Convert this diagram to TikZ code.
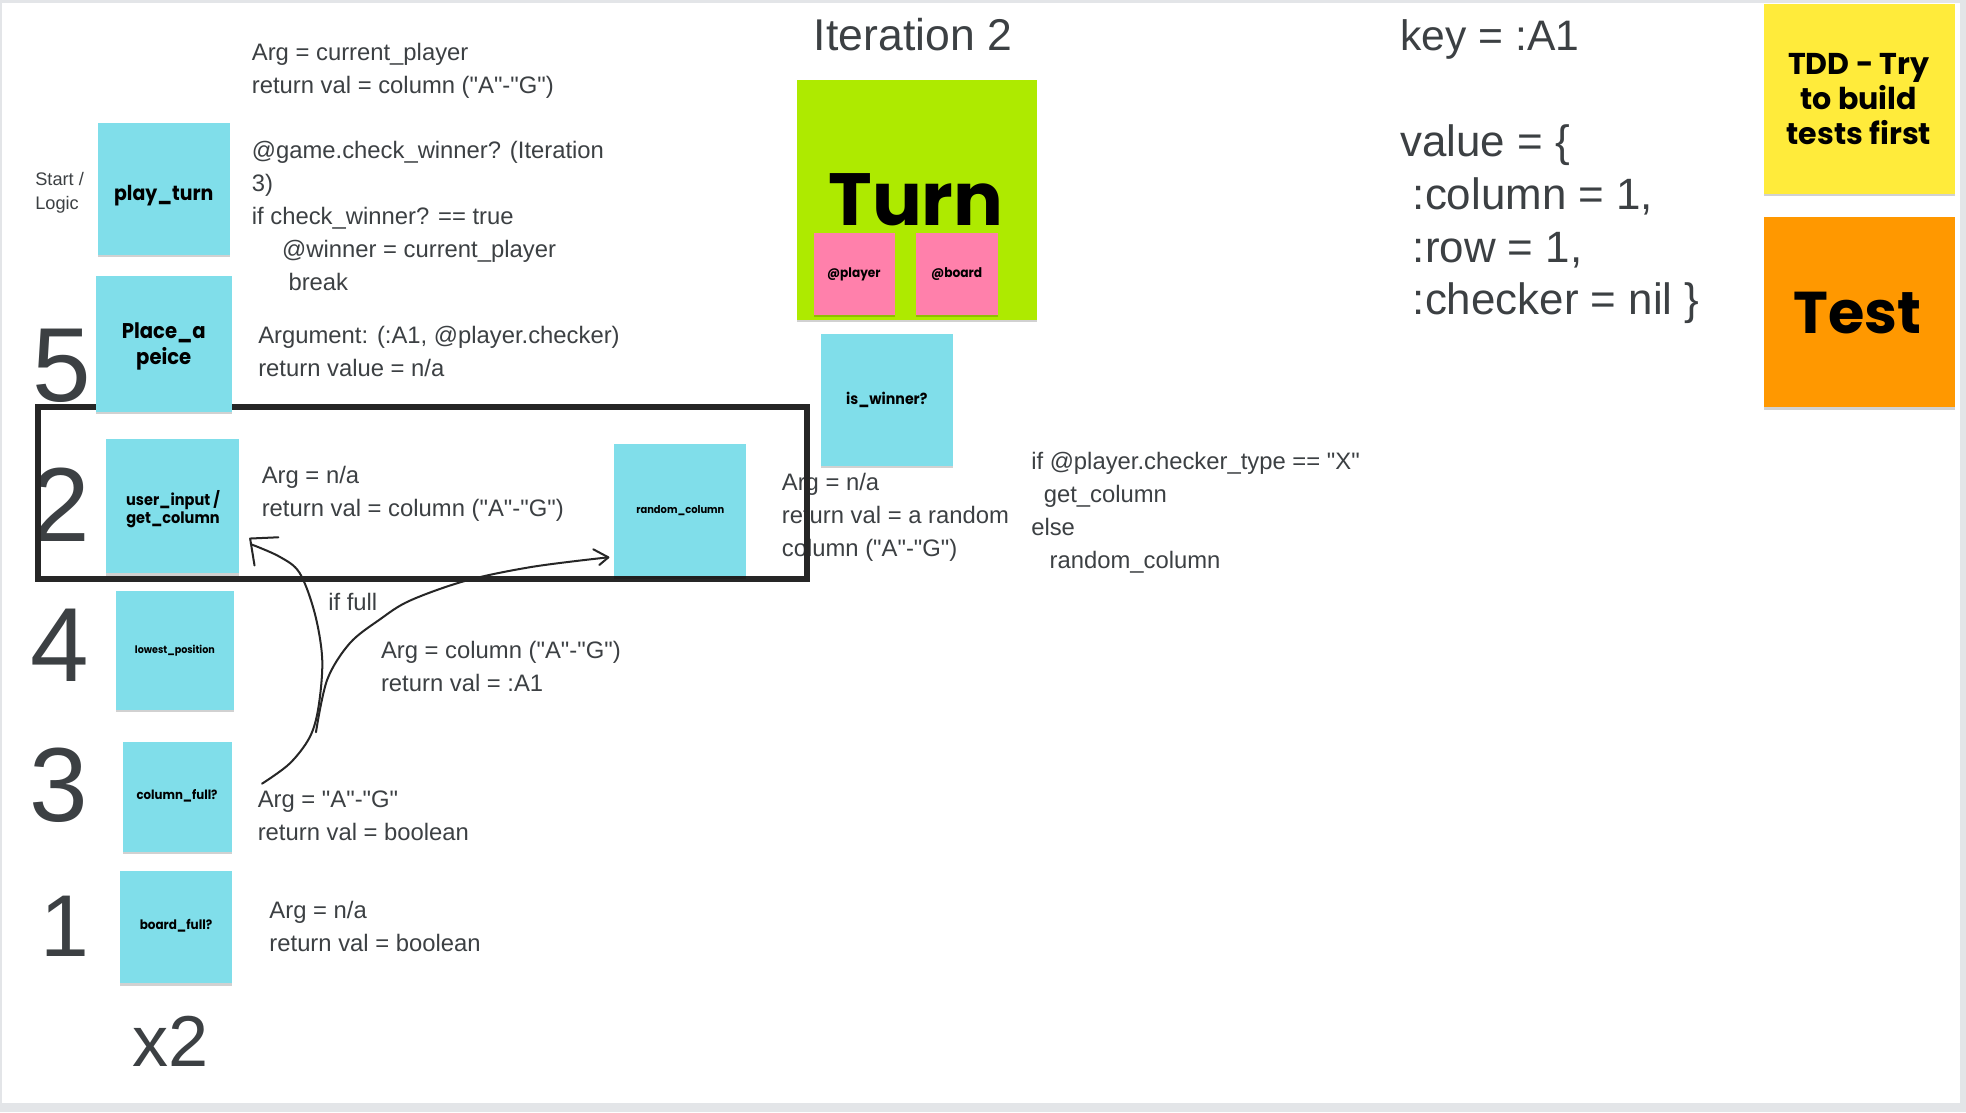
\documentclass[tikz,border=0pt]{standalone}
\usepackage{fontspec}
\setmainfont{Liberation Sans}
\newfontfamily\robo{Liberation Sans}
\newfontfamily\popfont{Poppins}
\newfontfamily\popn{Poppins}[FakeStretch=0.92]
\usetikzlibrary{shadows}
\definecolor{txtgrey}{HTML}{3C4043}
\definecolor{framegrey}{HTML}{E3E5E8}
\definecolor{cyannote}{HTML}{80DEEA}
\definecolor{greennote}{HTML}{AEEA00}
\definecolor{pinknote}{HTML}{FF80AB}
\definecolor{yellownote}{HTML}{FFEB3B}
\definecolor{orangenote}{HTML}{FF9800}
\definecolor{ink}{HTML}{262626}
\begin{document}
\begin{tikzpicture}[x=1pt,y=-1pt,
  note/.style={inner sep=0pt, outer sep=0pt,
    drop shadow={shadow xshift=0pt, shadow yshift=-1.8pt, opacity=0.18, fill=black}},
  cnote/.style={note, fill=cyannote},
  tx/.style={anchor=north west, inner sep=0pt, align=left, text=txtgrey,
    font=\robo\fontsize{19}{26.3}\selectfont},
  bigtx/.style={inner sep=0pt, text=txtgrey},
  ntx/.style={inner sep=0pt, text=black},
  hand/.style={draw=ink, line width=1.6pt, line cap=round, line join=round}
]
\useasboundingbox (0,0) rectangle (1568,887);
\fill[framegrey] (0,0) rectangle (1568,887);
\fill[white] (1.5,2.2) rectangle (1563,880);

% ---------- texts ----------
\node[tx] (tA) at (200.7,29.6) {\strut Arg = current\_player\\return val = column ("A"-"G")};
\node[tx] (tB) at (200.7,107.9) {\strut @game.check\_winner? (Iteration\\3)\\if check\_winner? == true\\\hspace*{24.2pt}@winner = current\_player\\\hspace*{29.2pt}break};
\node[tx] (tC) at (205.8,255.4) {\strut Argument: (:A1, @player.checker)\\return value = n/a};
\node[tx] (tD) at (208.6,367.1) {\strut Arg = n/a\\return val = column ("A"-"G")};
\node[tx] (tIf) at (261.6,468.1) {\strut if full};
\node[tx] (tE) at (303.7,506.6) {\strut Arg = column ("A"-"G")\\return val = :A1};
\node[tx] (tF) at (205.4,625.5) {\strut Arg = "A"-"G"\\return val = boolean};
\node[tx] (tG) at (214.7,714) {\strut Arg = n/a\\return val = boolean};
\node[tx] (tH) at (623.4,372.3) {\strut Arg = n/a\\return val = a random\\column ("A"-"G")};
\node[tx] (tI) at (822.3,355.5) {\strut if @player.checker\_type == "X"\\\hspace*{10pt}get\_column\\else\\\hspace*{14.6pt}random\_column};
\node[tx, font=\robo\fontsize{14.5}{19}\selectfont] (tStart) at (28,134.3) {\strut Start /\\Logic};

\node[bigtx, anchor=base west, font=\robo\fontsize{35.5}{42}\selectfont] (tIter) at (649,40.3) {Iteration 2};
\node[bigtx, anchor=base west, font=\robo\fontsize{34}{42}\selectfont] (tKey) at (1116.6,39.9) {key = :A1};
\node[tx, font=\robo\fontsize{35}{42}\selectfont] (tVal) at (1116.6,95.6) {\strut value = \{\\\hspace*{10pt}:column = 1,\\\hspace*{10pt}:row = 1,\\\hspace*{10pt}:checker = nil \}};

\node[bigtx, anchor=base, font=\robo\fontsize{84}{84}\selectfont] (n5) at (49.5,320.4) {5};
\node[bigtx, anchor=base, font=\robo\fontsize{84}{84}\selectfont] (n2) at (48.6,432) {2};
\node[bigtx, anchor=base, font=\robo\fontsize{84}{84}\selectfont] (n4) at (48,543.7) {4};
\node[bigtx, anchor=base, font=\robo\fontsize{84}{84}\selectfont] (n3) at (47.2,655) {3};
\node[bigtx, anchor=base, font=\robo\fontsize{70}{70}\selectfont] (n1) at (51.5,762.5) {1};
\node[bigtx, anchor=base, font=\robo\fontsize{57.5}{58}\selectfont] (nx2) at (135.9,850.7) {x2};

% ---------- group rectangle ----------
\node[draw=ink, line width=4.5pt, inner sep=0pt, minimum width=613pt, minimum height=137.5pt] (grp) at (337,393.25) {};

% ---------- notes ----------
\node[cnote, minimum width=105.3pt, minimum height=105pt] (play) at (130.6,150.9) {};
\node[cnote, minimum width=108.4pt, minimum height=108.6pt] (place) at (130.8,274.3) {};
\node[cnote, minimum width=106.7pt, minimum height=106.9pt] (userin) at (137.6,403.8) {};
\node[cnote, minimum width=105.3pt, minimum height=105.5pt] (randcol) at (542.6,406.9) {};
\node[cnote, minimum width=94.7pt, minimum height=94.9pt] (lowest) at (139.5,518.8) {};
\node[cnote, minimum width=87.2pt, minimum height=87.8pt] (colfull) at (141.5,635.4) {};
\node[cnote, minimum width=89.7pt, minimum height=89.9pt] (boardfull) at (140.2,739.3) {};
\node[cnote, minimum width=105.2pt, minimum height=105.5pt] (iswin) at (707.4,319) {};
\node[note, fill=greennote, minimum width=191.3pt, minimum height=191.4pt] (turn) at (731.3,159.2) {};
\node[note, fill=pinknote, minimum width=64.5pt, minimum height=64.7pt] (player) at (681.4,218.5) {};
\node[note, fill=pinknote, minimum width=65.2pt, minimum height=64.7pt] (board) at (763.4,218.5) {};
\node[note, fill=yellownote, minimum width=152.4pt, minimum height=151.5pt] (tdd) at (1483,79) {};
\node[note, fill=orangenote, minimum width=152.4pt, minimum height=151.6pt] (test) at (1483,249.1) {};

% ---------- note texts ----------
\node[ntx, anchor=base, font=\popn\bfseries\fontsize{16.4}{19}\selectfont] (lplay) at (130.6,160) {play\_turn};
\node[ntx, anchor=north, align=center, font=\popn\bfseries\fontsize{17}{19}\selectfont] (lplace) at (130.6,256.7) {\strut Place\_a\\peice};
\node[ntx, anchor=north, align=center, font=\popn\bfseries\fontsize{12.6}{14}\selectfont] (luser) at (138,391.1) {\strut user\_input /\\get\_column};
\node[ntx, anchor=base, font=\popn\bfseries\fontsize{8.6}{10}\selectfont] (lrand) at (542.6,409.4) {random\_column};
\node[ntx, anchor=base, font=\popn\bfseries\fontsize{8.3}{9}\selectfont] (llow) at (139.5,521) {lowest\_position};
\node[ntx, anchor=base, font=\popn\bfseries\fontsize{10.2}{12}\selectfont] (lcol) at (141.2,638) {column\_full?};
\node[ntx, anchor=base, font=\popn\bfseries\fontsize{10.4}{12}\selectfont] (lboard) at (140.4,741.7) {board\_full?};
\node[ntx, anchor=base, font=\popn\bfseries\fontsize{12.3}{14}\selectfont] (lwin) at (707.3,323) {is\_winner?};
\node[ntx, anchor=base, font=\popfont\bfseries\fontsize{59}{60}\selectfont] (lturn) at (730.5,180) {Turn};
\node[ntx, anchor=base, font=\popn\bfseries\fontsize{10.5}{12}\selectfont] (lplayer) at (681,221.3) {@player};
\node[ntx, anchor=base, font=\popn\bfseries\fontsize{10.6}{12}\selectfont] (lboardv) at (763,221) {@board};
\node[ntx, anchor=north, align=center, font=\popfont\bfseries\fontsize{24}{28}\selectfont] (ltdd) at (1482.5,39.4) {\strut TDD - Try\\to build\\tests first};
\node[ntx, anchor=base, font=\popfont\bfseries\fontsize{47}{48}\selectfont] (ltest) at (1481.5,265.6) {Test};

% ---------- hand-drawn connectors ----------
\coordinate (c1a) at (209,625);
\coordinate (c1b) at (200,434);
\draw[hand] plot[smooth, tension=0.55] coordinates {(c1a) (231,609) (247,588) (254,564) (257,526) (251,489) (239,457) (223,444) (c1b)};
\draw[hand] (222,428.5) -- (199.5,429.5) -- (203,451);
\coordinate (c2a) at (252,584);
\coordinate (c2b) at (485,444.5);
\draw[hand] plot[smooth, tension=0.55] coordinates {(c2a) (261,542) (279,513) (303,494) (327,479) (372,463) (425,452) (c2b)};
\draw[hand] (473.2,438.1) -- (485.2,444.5) -- (478,450.6);
\end{tikzpicture}
\end{document}
